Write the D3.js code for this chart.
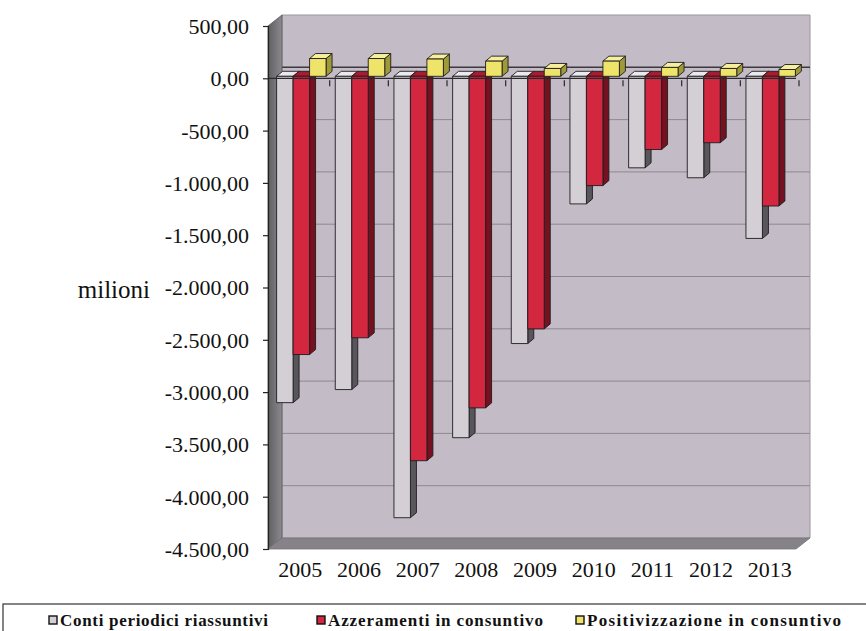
<!DOCTYPE html>
<html>
<head>
<meta charset="utf-8">
<script src="https://cdn.jsdelivr.net/npm/d3@7"></script>
<style>
  html, body { margin: 0; padding: 0; background: #fff; }
  svg { display: block; }
  text { font-family: "Liberation Serif", "Times New Roman", serif; fill: #111; }
</style>
</head>
<body>
<svg id="chart" width="866" height="631"></svg>
<script>
// Data (milioni)
const years = ["2005", "2006", "2007", "2008", "2009", "2010", "2011", "2012", "2013"];
const seriesNames = ["Conti periodici riassuntivi", "Azzeramenti in consuntivo", "Positivizzazione in consuntivo"];
const conti = [-3120, -2995, -4220, -3455, -2555, -1220, -875, -970, -1550];
const azzeramenti = [-2660, -2500, -3675, -3170, -2415, -1045, -700, -635, -1240];
const positivizzazione = [170, 170, 165, 145, 75, 145, 85, 75, 65];
const yTicks = [500, 0, -500, -1000, -1500, -2000, -2500, -3000, -3500, -4000, -4500];

// Colours per series: front, top, side
const palette = [
  { front: "#d3cfd5", top: "#ebe9ee", side: "#58565b" },
  { front: "#d2273f", top: "#a81c30", side: "#76111f" },
  { front: "#efe46a", top: "#f6f09c", side: "#9f9a38" }
];

const svg = d3.select("#chart");
const locale = d3.formatLocale({ decimal: ",", thousands: ".", grouping: [3], currency: ["€", ""], minus: "-" });
const fmt = locale.format(",.2f");

// Scales on the front plane
const y = d3.scaleLinear().domain([-4500, 500]).range([549, 26]);
const x0 = d3.scaleBand().domain(years).range([268, 796]);
const x1 = d3.scaleBand().domain(seriesNames).range([0, x0.bandwidth()]).paddingOuter(0.28);

// Oblique 3D offsets
const wall = { dx: 14, dy: -11 };
const barOff = { dx: 4, dy: -2 };
const barDepth = { dx: 6, dy: -5 };

const xL = x0.range()[0], xR = x0.range()[1];
const yTop = y(500), yBot = y(-4500);

const poly = pts => pts.map(p => p.join(",")).join(" ");

// Left side wall shading
const grad = svg.append("defs").append("linearGradient").attr("id", "leftWall")
  .attr("x1", "0").attr("x2", "1").attr("y1", "0").attr("y2", "0");
grad.append("stop").attr("offset", "0").attr("stop-color", "#5f5e62");
grad.append("stop").attr("offset", "1").attr("stop-color", "#8c8a8f");

// Back wall
svg.append("polygon")
  .attr("points", poly([[xL + wall.dx, yTop + wall.dy], [xR + wall.dx, yTop + wall.dy],
                        [xR + wall.dx, yBot + wall.dy], [xL + wall.dx, yBot + wall.dy]]))
  .attr("fill", "#c3bbc5").attr("stroke", "#9c97a0").attr("stroke-width", 1);

// Gridlines on the back wall
svg.append("g").selectAll("line").data(yTicks.filter(t => t !== 500 && t !== -4500)).join("line")
  .attr("x1", xL + wall.dx).attr("x2", xR + wall.dx)
  .attr("y1", d => y(d) + wall.dy).attr("y2", d => y(d) + wall.dy)
  .attr("stroke", d => d === 0 ? "#3c3a40" : "#8e8993")
  .attr("stroke-width", d => d === 0 ? 1.6 : 1);

// Left wall
svg.append("polygon")
  .attr("points", poly([[xL, yTop], [xL + wall.dx, yTop + wall.dy], [xL + wall.dx, yBot + wall.dy], [xL, yBot]]))
  .attr("fill", "url(#leftWall)").attr("stroke", "#555").attr("stroke-width", 0.8);

// Floor
svg.append("polygon")
  .attr("points", poly([[xL, yBot], [xR, yBot], [xR + wall.dx, yBot + wall.dy], [xL + wall.dx, yBot + wall.dy]]))
  .attr("fill", "#858288").attr("stroke", "#77747a").attr("stroke-width", 0.8);

// Bars
const seriesValues = [conti, azzeramenti, positivizzazione];
const bars = [];
years.forEach((yr, i) => {
  seriesNames.forEach((s, k) => bars.push({ yr, k, s, v: seriesValues[k][i] }));
});

const barG = svg.append("g").attr("stroke", "#1e1c20").attr("stroke-width", 0.9).attr("stroke-linejoin", "round");
bars.forEach(b => {
  const c = palette[b.k];
  const xa = x0(b.yr) + x1(b.s) + barOff.dx;
  const xb = xa + x1.bandwidth();
  const y0 = y(0) + barOff.dy;
  const yv = y(b.v) + barOff.dy;
  const yHigh = Math.min(y0, yv), yLow = Math.max(y0, yv);
  const g = barG.append("g");
  // right side face
  g.append("polygon")
    .attr("points", poly([[xb, yHigh], [xb + barDepth.dx, yHigh + barDepth.dy], [xb + barDepth.dx, yLow + barDepth.dy], [xb, yLow]]))
    .attr("fill", c.side);
  // top face
  g.append("polygon")
    .attr("points", poly([[xa, yHigh], [xb, yHigh], [xb + barDepth.dx, yHigh + barDepth.dy], [xa + barDepth.dx, yHigh + barDepth.dy]]))
    .attr("fill", c.top);
  // front face
  g.append("rect")
    .attr("x", xa).attr("y", yHigh).attr("width", xb - xa).attr("height", yLow - yHigh)
    .attr("fill", c.front);
});

// Category axis along the zero level
const y0f = y(0);
svg.append("line").attr("x1", xL).attr("x2", xR).attr("y1", y0f).attr("y2", y0f)
  .attr("stroke", "#2a282c").attr("stroke-width", 1.2);
const bounds = years.map(d => x0(d)).concat([xR]).slice(1);
svg.append("g").selectAll("line").data(bounds).join("line")
  .attr("x1", d => d + 3).attr("x2", d => d + 3)
  .attr("y1", y0f + 2).attr("y2", y0f + 8)
  .attr("stroke", "#2a282c").attr("stroke-width", 1.2);

// Value axis
const yAxis = d3.axisLeft(y).tickValues(yTicks).tickFormat(fmt).tickSize(5).tickPadding(14);
const ya = svg.append("g").attr("transform", `translate(${xL},0)`).call(yAxis);
ya.attr("font-family", null).attr("font-size", null);
ya.select(".domain").attr("stroke", "#222").attr("stroke-width", 1.2);
ya.selectAll(".tick line").attr("stroke", "#222").attr("stroke-width", 1.2);
ya.selectAll(".tick text")
  .style("font-family", '"Liberation Serif", "Times New Roman", serif')
  .style("font-size", "22px").attr("fill", "#151515").attr("dy", "0.34em");

// Year labels below the floor
svg.append("g").selectAll("text").data(years).join("text")
  .attr("x", d => x0(d) + x0.bandwidth() / 2 + 3)
  .attr("y", 577)
  .attr("text-anchor", "middle")
  .style("font-size", "22px")
  .text(d => d);

// Unit label
svg.append("text").attr("x", 150).attr("y", 298).attr("text-anchor", "end")
  .style("font-size", "25px").text("milioni");

// Legend
svg.append("rect").attr("x", 3).attr("y", 604).attr("width", 900).attr("height", 60)
  .attr("fill", "#fff").attr("stroke", "#333").attr("stroke-width", 1.2);
const legendX = [49, 317, 576];
const legendW = [208, 215, 254];
const lg = svg.append("g").selectAll("g").data(seriesNames).join("g")
  .attr("transform", (d, i) => `translate(${legendX[i]},620)`);
lg.append("rect").attr("x", 0).attr("y", -4).attr("width", 8).attr("height", 8)
  .attr("fill", (d, i) => palette[i].front).attr("stroke", "#111").attr("stroke-width", 1.4);
lg.append("text").attr("x", 11).attr("y", 5.5)
  .attr("textLength", (d, i) => legendW[i]).attr("lengthAdjust", "spacing")
  .style("font-size", "17px").style("font-weight", "bold")
  .text(d => d);
</script>
</body>
</html>
